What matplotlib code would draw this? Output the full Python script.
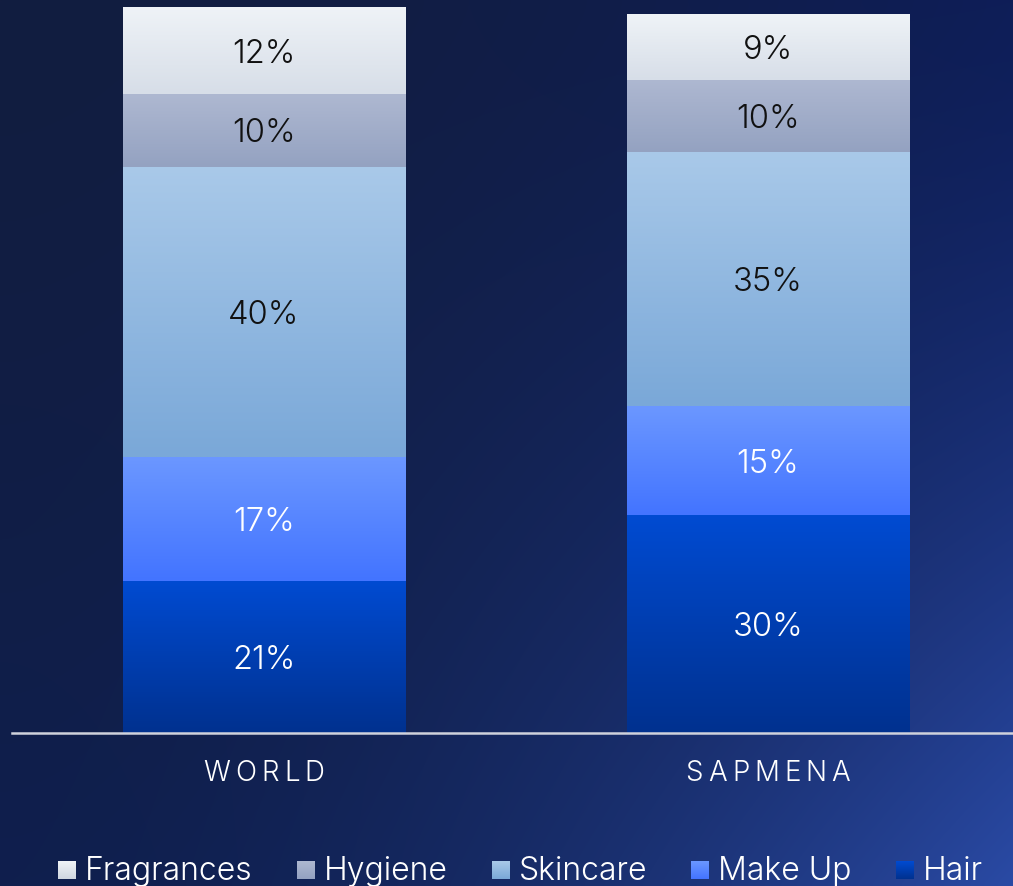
import numpy as np
import matplotlib
matplotlib.use("Agg")
import matplotlib.pyplot as plt
from matplotlib.colors import to_rgb
from matplotlib.transforms import offset_copy

# category split of sales, in %
regions = ["WORLD", "SAPMENA"]
categories = ["Hair", "Make Up", "Skincare", "Hygiene", "Fragrances"]
shares = {
    "Hair":       [21, 30],
    "Make Up":    [17, 15],
    "Skincare":   [40, 35],
    "Hygiene":    [10, 10],
    "Fragrances": [12, 9],
}
legend_order = ["Fragrances", "Hygiene", "Skincare", "Make Up", "Hair"]

# (top colour, bottom colour) of each segment's vertical gradient
grad_colors = {
    "Hair":       ("#004bd2", "#00318f"),
    "Make Up":    ("#6b97ff", "#4374ff"),
    "Skincare":   ("#a9c9e9", "#7aa8d8"),
    "Hygiene":    ("#aeb8d1", "#94a2c1"),
    "Fragrances": ("#eff3f7", "#d7dee8"),
}
label_colors = {"Hair": "white", "Make Up": "white", "Skincare": "#111111",
                "Hygiene": "#111111", "Fragrances": "#111111"}

FONT = ["Inter", "DejaVu Sans"]
WEIGHT = 300
W, H, DPI = 1013, 886, 100


def vgrad(top, bottom, n=128):
    t = np.linspace(0, 1, n)[:, None]
    c0, c1 = np.array(to_rgb(top)), np.array(to_rgb(bottom))
    return (c0 * (1 - t) + c1 * t)[:, None, :].repeat(2, axis=1)


def spaced_text(ax, trans, x, y, s, tracking, **kw):
    # letter-spaced text, centred on (x, y)
    r = ax.figure.canvas.get_renderer()
    widths = []
    for ch in s:
        t = ax.text(0, 0, ch, **kw)
        widths.append(t.get_window_extent(r).width)
        t.remove()
    total = sum(widths) + tracking * (len(s) - 1)
    pos = -total / 2
    for ch, w in zip(s, widths):
        ax.text(x, y, ch, ha="left",
                transform=offset_copy(trans, ax.figure, x=pos, y=0, units="dots"), **kw)
        pos += w + tracking


fig = plt.figure(figsize=(W / DPI, H / DPI), dpi=DPI)

# background: dark navy, brightening toward the bottom right
bg = fig.add_axes([0, 0, 1, 1], zorder=0)
yy, xx = np.mgrid[0:1:200j, 0:1:220j]
u, v = xx ** 1.8, yy ** 1.4
tl, tr = np.array(to_rgb("#121d40")), np.array(to_rgb("#0e1e58"))
bl, br = np.array(to_rgb("#0f1f4e")), np.array(to_rgb("#2a4aa4"))
img = (tl * ((1 - u) * (1 - v))[..., None] + tr * (u * (1 - v))[..., None]
       + bl * ((1 - u) * v)[..., None] + br * (u * v)[..., None])
bg.imshow(img, extent=(0, W, H, 0), aspect="auto", interpolation="bilinear")
bg.set_xlim(0, W)
bg.set_ylim(H, 0)
bg.axis("off")

# bars
ax = fig.add_axes([12 / W, 153 / H, 1 - 12 / W, (733 - 7) / H], zorder=1)
ax.patch.set_alpha(0)
x = np.arange(len(regions))
bottom = np.zeros(len(regions))
for cat in categories:
    vals = np.array(shares[cat], dtype=float)
    bars = ax.bar(x, vals, width=0.56, bottom=bottom, color="none", linewidth=0)
    for rect, val in zip(bars, vals):
        x0, y0 = rect.get_x(), rect.get_y()
        x1, y1 = x0 + rect.get_width(), y0 + rect.get_height()
        ax.imshow(vgrad(*grad_colors[cat]), extent=(x0, x1, y0, y1),
                  aspect="auto", interpolation="bilinear", zorder=2)
        ax.text((x0 + x1) / 2, (y0 + y1) / 2, f"{val:.0f}%", ha="center",
                va="center_baseline", fontsize=23.5, color=label_colors[cat],
                family=FONT, weight=WEIGHT, zorder=3)
    bottom += vals

ax.set_xlim(-0.5, 1.486)
ax.set_ylim(0, 100)
ax.axhline(0, color="#cfd2dc", lw=1.8, zorder=4, clip_on=False)
ax.axis("off")

# region names under the baseline
for i, name in enumerate(regions):
    spaced_text(ax, ax.get_xaxis_transform(), i, -0.056, name, 5,
                fontsize=20, color="white", family=FONT, weight=WEIGHT,
                va="center", zorder=3)

# legend along the bottom, spread between x=58 and x=983
r = fig.canvas.get_renderer()
sq, pad = 18, 9
items = []
for cat in legend_order:
    t = bg.text(0, 880, cat, ha="left", va="baseline", fontsize=23,
                color="white", family=FONT, weight=WEIGHT, zorder=2)
    items.append((cat, t, t.get_window_extent(r).width))
used = sum(sq + pad + w for _, _, w in items)
gap = (983 - 58 - used) / (len(items) - 1)
lx = 58
for cat, t, w in items:
    top, bot = grad_colors[cat]
    bg.imshow(vgrad(top, bot if cat != "Fragrances" else "#cfd6e0"),
              extent=(lx, lx + sq, 879, 861), aspect="auto", zorder=2)
    t.set_x(lx + sq + pad)
    lx += sq + pad + w + gap
bg.set_xlim(0, W)
bg.set_ylim(H, 0)

fig.savefig("out.png", dpi=DPI)
